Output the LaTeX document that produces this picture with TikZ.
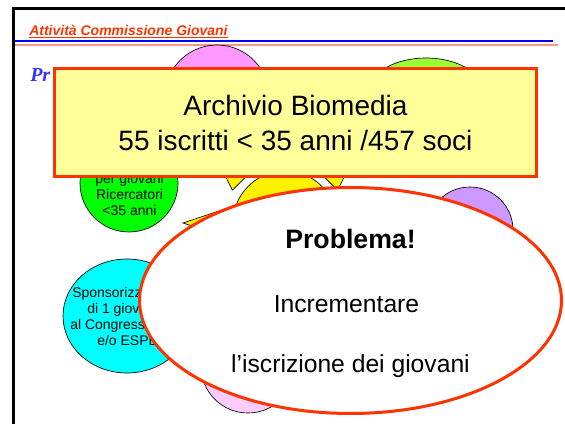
\documentclass[tikz,border=0pt]{standalone}
\usepackage{fontspec}
\setmainfont{Liberation Sans}
\newfontfamily\titlefont{Liberation Serif}
\usetikzlibrary{shapes.geometric}

\definecolor{bordo}{RGB}{255,51,0}
\definecolor{giallino}{RGB}{255,255,153}
\definecolor{rosaforte}{RGB}{255,153,255}
\definecolor{rosachiaro}{RGB}{255,204,255}
\definecolor{lime}{RGB}{153,255,51}
\definecolor{verde}{RGB}{0,255,0}
\definecolor{ciano}{RGB}{0,255,255}
\definecolor{lilla}{RGB}{204,153,255}
\definecolor{blu}{RGB}{0,0,255}
\definecolor{blutitolo}{RGB}{51,51,255}
\definecolor{salmone}{RGB}{245,150,140}

\begin{document}
\begin{tikzpicture}[x=0.75pt,y=-0.75pt,
    bolla/.style={circle,draw=black,line width=0.5pt,inner sep=0pt},
    ovale/.style={ellipse,draw=black,line width=0.5pt,inner sep=0pt},
    raggio/.style={fill=yellow,draw=black,line width=0.5pt},
    testino/.style={font=\fontsize{10.5}{12}\selectfont,inner sep=0pt},
    grande/.style={font=\fontsize{18.5}{22}\selectfont,inner sep=0pt}]
      \useasboundingbox (0,0) rectangle (565,424);

      % cornice e intestazione
      \draw[line width=1.9pt] (13.5,424) -- (13.5,8.7) -- (565,8.7);
      \node[anchor=base west,inner sep=0pt,text=bordo,font=\fontsize{10.5}{12}\selectfont\bfseries\itshape] (intest) at (29,35.5) {\underline{Attività Commissione Giovani}};
      \draw[blu,line width=0.9pt] (15,41) -- (553,41);
      \draw[salmone,line width=1.5pt] (15,45) -- (558,45);
      \node[anchor=base west,inner sep=0pt,text=blutitolo,font=\titlefont\fontsize{15}{18}\selectfont\bfseries\itshape] (titolo) at (30,82) {Pr};

      % sole centrale
      \foreach \a in {0,45,...,315}
        \draw[raggio,shift={(285,223)}] ({\a-13}:62) -- (\a:102) -- ({\a+13}:62) -- cycle;
      \node[bolla,fill=yellow,minimum size=78pt] (sole) at (285,223) {};

      % cerchi intorno
      \node[bolla,fill=rosaforte,minimum size=78pt] (rosa) at (217,97) {};
      \node[ovale,fill=lime,minimum width=97.5pt,minimum height=67.5pt] (lime) at (426,103) {};
      \node[bolla,fill=verde,minimum size=73.5pt] (borse) at (129,183) {};
      \node[testino,anchor=north,align=center] (borsetxt) at (129.5,173) {per giovani\\Ricercatori\\<35 anni};
      \node[ovale,fill=ciano,minimum width=96pt,minimum height=85.5pt] (sponsor) at (127,316) {};
      \node[testino,anchor=north west,align=left] (sponsortxt) at (70,287) {\hspace*{1.5pt}Sponsorizz\\\hspace*{12.75pt}di 1 giov\\al Congress\\\hspace*{20.25pt}e/o ESPE};
      \node[bolla,fill=lilla,minimum size=64.5pt] (lilla) at (470,230) {};
      \node[bolla,fill=rosachiaro,minimum size=70.5pt] (rosabasso) at (248,366) {};

      % riquadro giallo
      \node[draw=bordo,fill=giallino,line width=2.25pt,minimum width=361.5pt,minimum height=81pt,align=center,font=\fontsize{21}{26.25}\selectfont] (archivio) at (295.5,122.5) {Archivio Biomedia\\55 iscritti < 35 anni /457 soci};

      % ovale rosso
      \node[ellipse,draw=bordo,fill=white,line width=2.25pt,minimum width=316.5pt,minimum height=169.5pt,inner sep=0pt] (problema) at (350.5,300.5) {};
      \node[anchor=base,inner sep=0pt,font=\fontsize{20}{24}\selectfont\bfseries] (probtit) at (350.5,249) {Problema!};
      \node[grande,anchor=base] (incr) at (346.5,313) {Incrementare};
      \node[grande,anchor=base] (iscr) at (350.5,373) {l’iscrizione dei giovani};
    \end{tikzpicture}
\end{document}
